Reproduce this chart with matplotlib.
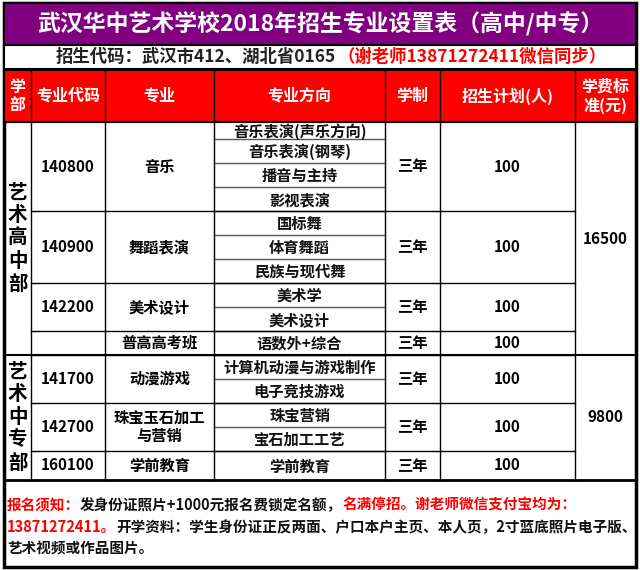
import matplotlib
matplotlib.use("Agg")
import matplotlib.pyplot as plt
from matplotlib.patches import Rectangle

plt.rcParams['font.family'] = ['Noto Sans CJK SC', 'DejaVu Sans']

title = "武汉华中艺术学校2018年招生专业设置表（高中/中专）"
sub_black = "招生代码：武汉市412、湖北省0165"
sub_red = "（谢老师13871272411微信同步）"
headers = ["学\n部", "专业代码", "专业", "专业方向", "学制", "招生计划(人)", "学费标\n准(元)"]
directions = ["音乐表演(声乐方向)", "音乐表演(钢琴)", "播音与主持", "影视表演",
              "国标舞", "体育舞蹈", "民族与现代舞", "美术学", "美术设计",
              "语数外+综合", "计算机动漫与游戏制作", "电子竞技游戏",
              "珠宝营销", "宝石加工工艺", "学前教育"]
groups = [(0, 3, "140800", "音乐", "三年", "100"),
          (4, 6, "140900", "舞蹈表演", "三年", "100"),
          (7, 8, "142200", "美术设计", "三年", "100"),
          (9, 9, "", "普高高考班", "三年", "100"),
          (10, 11, "141700", "动漫游戏", "三年", "100"),
          (12, 13, "142700", "珠宝玉石加工\n与营销", "三年", "100"),
          (14, 14, "160100", "学前教育", "三年", "100")]
depts = [(0, 9, "艺\n术\n高\n中\n部", "16500"), (10, 14, "艺\n术\n中\n专\n部", "9800")]

rows_y = [122, 139, 163, 187, 211, 235, 259, 283, 307, 331, 355, 379, 403, 427, 451, 480]
cols_x = [4, 31, 105, 214, 385, 440, 575, 636]

fig = plt.figure(figsize=(6.4, 5.7), dpi=100)
ax = fig.add_axes([0, 0, 1, 1])
ax.set_xlim(0, 640); ax.set_ylim(570, 0); ax.axis('off')

L, R = cols_x[0], cols_x[-1]
ax.add_patch(Rectangle((L, 3), R - L, 564, fc='white', ec='black', lw=2.5, zorder=0))
ax.add_patch(Rectangle((L, 3), R - L, 42, fc='#800080', ec='black', lw=1.5))
ax.text(320, 24, title, color='white', fontsize=16.5, fontweight='bold', ha='center', va='center')
ax.add_patch(Rectangle((L, 45), R - L, 24, fc='white', ec='black', lw=1.5))
t = ax.text(56, 57, sub_black, color='#222222', fontsize=12.5, fontweight='bold', ha='left', va='center')
fig.canvas.draw()
bb = t.get_window_extent()
ax.text(bb.x1 + 1, 57, sub_red, color='#ff0000', fontsize=12.5, fontweight='bold', ha='left', va='center')

ax.add_patch(Rectangle((L, 70), R - L, 52, fc='#ff0000', ec='black', lw=1.5))
for i, h in enumerate(headers):
    ax.text((cols_x[i] + cols_x[i + 1]) / 2, 96, h, color='white', fontsize=11.5,
            fontweight='bold', ha='center', va='center', linespacing=1.2)
for x in cols_x[1:-1]:
    ax.plot([x, x], [70, 122], color='black', lw=1)

def cy(a, b):
    return (rows_y[a] + rows_y[b + 1]) / 2

for i, d in enumerate(directions):
    ax.text((cols_x[3] + cols_x[4]) / 2, (rows_y[i] + rows_y[i + 1]) / 2 + 1, d,
            fontsize=11, fontweight='bold', ha='center', va='center', color='#111111')
    if i > 0:
        ax.plot([cols_x[3], cols_x[4]], [rows_y[i]] * 2, color='#555555', lw=1)

for a, b, code, major, yrs, plan in groups:
    y = cy(a, b)
    if code:
        ax.text((cols_x[1] + cols_x[2]) / 2, y, code, fontsize=11, fontweight='bold', ha='center', va='center')
    ax.text((cols_x[2] + cols_x[3]) / 2, y, major, fontsize=11, fontweight='bold', ha='center', va='center', linespacing=1.2)
    ax.text((cols_x[4] + cols_x[5]) / 2, y, yrs, fontsize=11, fontweight='bold', ha='center', va='center')
    ax.text((cols_x[5] + cols_x[6]) / 2, y, plan, fontsize=11, fontweight='bold', ha='center', va='center')
    if a > 0:
        ax.plot([cols_x[1], cols_x[6]], [rows_y[a]] * 2, color='black', lw=1)

for a, b, name, fee in depts:
    y = cy(a, b)
    ax.text((cols_x[0] + cols_x[1]) / 2, y, name, fontsize=14, fontweight='bold', ha='center', va='center', linespacing=1.25)
    ax.text((cols_x[6] + cols_x[7]) / 2, y, fee, fontsize=11, fontweight='bold', ha='center', va='center')
    if a > 0:
        ax.plot([L, R], [rows_y[a]] * 2, color='black', lw=1.5)

for x in cols_x[1:-1]:
    ax.plot([x, x], [122, 480], color='black', lw=1)
ax.plot([L, R], [122, 122], color='black', lw=1.5)
ax.plot([L, R], [480, 480], color='black', lw=2)

segs1 = [("报名须知：", '#ff0000'), ("发身份证照片+1000元报名费锁定名额，", '#111111'),
         ("名满停招。谢老师微信支付宝均为：", '#ff0000')]
segs2 = [("13871272411。", '#ff0000'), ("开学资料：学生身份证正反两面、户口本户主页、本人页，2寸蓝底照片电子版、", '#111111')]
segs3 = [("艺术视频或作品图片。", '#111111')]
for yy, segs in [(505, segs1), (527, segs2), (549, segs3)]:
    x = 7
    for s, c in segs:
        tt = ax.text(x, yy, s, color=c, fontsize=10.5, fontweight='bold', ha='left', va='center')
        fig.canvas.draw()
        e = tt.get_window_extent()
        x += e.width
fig.savefig("out.png", dpi=100)
